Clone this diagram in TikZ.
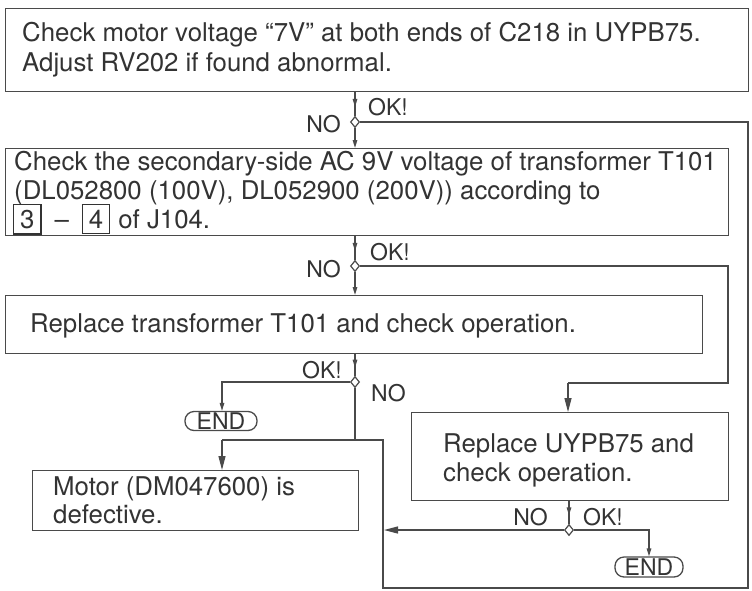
\documentclass[tikz,border=0pt]{standalone}
\usepackage{fontspec}
\setmainfont{TeX Gyre Heros}
\usetikzlibrary{shapes.geometric,arrows.meta,decorations.markings}
\definecolor{ink}{HTML}{4A4A4A}
\definecolor{txtc}{HTML}{333333}
\newcommand\dbox[1]{\begingroup\setlength{\fboxsep}{5pt}\setlength{\fboxrule}{1.2pt}\fbox{\makebox[16pt]{\rule{0pt}{18pt}#1}}\endgroup}
\tikzset{
  box/.style={draw=ink, line width=1.4pt, rectangle, inner sep=0, anchor=north west},
  txt/.style={font=\fontsize{25.8}{30}\selectfont, text=txtc, inner sep=0, anchor=base west},
  lbl/.style={font=\fontsize{23}{26}\selectfont, text=txtc, inner sep=0},
  dia/.style={draw=ink, fill=white, line width=1.2pt, diamond, inner sep=0, minimum width=9pt, minimum height=11pt},
  endbox/.style={draw=ink, line width=1.3pt, rectangle, rounded corners=9pt, inner sep=0, font=\fontsize{23}{26}\selectfont, text=txtc},
  conn/.style={draw=ink, line width=1.3pt},
  tipsmall/.style={-{Triangle[length=8pt,width=4.5pt]}},
  tipbig/.style={-{Triangle[length=14pt,width=7pt]}},
  midarrow/.style={postaction={decorate}, decoration={markings, mark=at position 0.62 with {\arrow{Triangle[length=8pt,width=4.5pt]}}}}
}
\begin{document}
\begin{tikzpicture}[x=1pt,y=-1pt]
\useasboundingbox[fill=white] (0,0) rectangle (752,590);

% boxes
\node[box, minimum width=743pt, minimum height=83pt] (b1) at (5,8) {};
\node[box, minimum width=723pt, minimum height=87pt] (b2) at (5,148) {};
\node[box, minimum width=697pt, minimum height=58pt] (b3) at (5,295) {};
\node[box, minimum width=317pt, minimum height=88pt] (b4) at (411,412) {};
\node[box, minimum width=326pt, minimum height=60pt] (b5) at (32,470) {};

% texts
\node[txt] (t1a) at (22,41) {Check motor voltage ``7V'' at both ends of C218 in UYPB75.};
\node[txt] (t1b) at (22,71) {Adjust RV202 if found abnormal.};
\node[txt] (t2a) at (14,170) {Check the secondary-side AC 9V voltage of transformer T101};
\node[txt] (t2b) at (14,199) {(DL052800 (100V), DL052900 (200V)) according to};
\node[txt] (t2c) at (13,228) {\dbox{3}\hspace{13pt}--\hspace{13pt}\dbox{4}\hspace{8pt}of J104.};
\node[txt] (t3) at (30,332) {Replace transformer T101 and check operation.};
\node[txt] (t4a) at (443,452) {Replace UYPB75 and};
\node[txt] (t4b) at (443,481) {check operation.};
\node[txt] (t5a) at (53,495) {Motor (DM047600) is};
\node[txt] (t5b) at (53,523) {defective.};

% diamonds
\node[dia] (d1) at (355,122) {};
\node[dia] (d2) at (355,266) {};
\node[dia] (d3) at (355,382) {};
\node[dia] (d4) at (569,530) {};

% end terminals
\node[endbox, minimum width=72pt, minimum height=19pt] (e1) at (221,421) {END};
\node[endbox, minimum width=68pt, minimum height=20pt] (e2) at (649,567) {END};

% labels
\node[lbl, anchor=base west] (ok1) at (368,115) {OK!};
\node[lbl, anchor=base east] (no1) at (341,132) {NO};
\node[lbl, anchor=base west] (ok2) at (370,260) {OK!};
\node[lbl, anchor=base east] (no2) at (341,277) {NO};
\node[lbl, anchor=base east] (ok3) at (342,378) {OK!};
\node[lbl, anchor=base west] (no3) at (371,401) {NO};
\node[lbl, anchor=base east] (no4) at (548,525) {NO};
\node[lbl, anchor=base west] (ok4) at (583,525) {OK!};

% helper coordinates
\coordinate (r1) at (748,122);
\coordinate (r1b) at (748,588);
\coordinate (bl) at (383,588);
\coordinate (jr) at (383,440);
\coordinate (jl) at (222,440);
\coordinate (r2) at (728,266);
\coordinate (r2b) at (728,383);
\coordinate (u4) at (568,383);
\coordinate (l3) at (222,382);
\coordinate (r4) at (649,530);
\coordinate (l4) at (384,530);

% main spine
\draw[conn, midarrow] (b1.south -| d1) -- (d1.north);
\draw[conn, tipsmall] (d1.south) -- (b2.north -| d1);
\draw[conn, midarrow] (b2.south -| d2) -- (d2.north);
\draw[conn, tipsmall] (d2.south) -- (b3.north -| d2);
\draw[conn, midarrow] (b3.south -| d3) -- (d3.north);
\draw[conn] (d3.south) -- (d3.south |- jl);

% branch from d1 (outer loop)
\draw[conn] (d1.east) -- (r1) -- (r1b) -- (bl) -- (jr) -- (jl);
\draw[conn, tipbig] (jl) -- (b5.north -| jl);

% branch from d2
\draw[conn] (d2.east) -- (r2) -- (r2b) -- (u4);
\draw[conn, tipbig] (u4) -- (b4.north -| u4);

% branch from d3 to END
\draw[conn, tipsmall] (d3.west) -- (l3) -- (e1.north -| l3);

% from UYPB75
\draw[conn, midarrow] (b4.south -| d4) -- (d4.north);
\draw[conn, tipsmall] (d4.east) -- (r4) -- (e2.north -| r4);
\draw[conn, tipbig] (d4.west) -- (l4);
\end{tikzpicture}
\end{document}
